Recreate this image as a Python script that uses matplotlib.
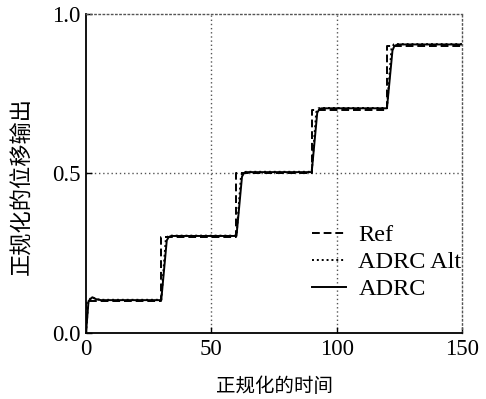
import matplotlib
matplotlib.use("Agg")
import matplotlib.pyplot as plt

# Reference step command
ref_t = [0, 0, 30, 30, 60, 60, 90, 90, 120, 120, 150]
ref_y = [0, 0.1, 0.1, 0.3, 0.3, 0.5, 0.5, 0.7, 0.7, 0.9, 0.9]

# ADRC response
adrc_t = [0, 1.0, 2.5, 4.0, 6.0, 30.0, 32.2, 33.0, 34.0, 60.0, 62.2, 63.0, 64.0,
          90.0, 92.2, 93.0, 94.0, 120.0, 122.2, 123.0, 124.5, 150]
adrc_y = [0, 0.100, 0.112, 0.106, 0.103, 0.103, 0.290, 0.301, 0.304, 0.304, 0.490, 0.501, 0.504,
          0.504, 0.690, 0.701, 0.704, 0.704, 0.885, 0.900, 0.904, 0.904]

# ADRC alternative response
alt_t = [0, 0.9, 2.3, 4.0, 6.0, 30.0, 31.8, 32.7, 34.0, 60.0, 61.8, 62.7, 64.0,
         90.0, 91.8, 92.7, 94.0, 120.0, 121.8, 122.7, 124.0, 150]
alt_y = [0, 0.100, 0.113, 0.106, 0.104, 0.104, 0.292, 0.304, 0.305, 0.305, 0.492, 0.504, 0.505,
         0.505, 0.692, 0.704, 0.705, 0.705, 0.890, 0.904, 0.905, 0.905]

x_ticks = [0, 50, 100, 150]
y_ticks = [0.0, 0.5, 1.0]
x_label = "正规化的时间"
y_label = "正规化的位移输出"

plt.rcParams["font.family"] = ["Liberation Serif", "Noto Sans CJK SC"]

fig = plt.figure(figsize=(4.86, 3.99), dpi=100)
ax = fig.add_axes([0.177, 0.1654, 0.774, 0.800])

ax.plot(ref_t, ref_y, color="black", lw=1.4, ls=(0, (4, 2)), label="Ref")
ax.plot(alt_t, alt_y, color="black", lw=1.4, ls=(0, (1, 1.5)), label="ADRC Alt")
ax.plot(adrc_t, adrc_y, color="black", lw=1.4, ls="-", label="ADRC")

ax.set_xlim(0, 150)
ax.set_ylim(0, 1.0)
ax.set_xticks(x_ticks)
ax.set_yticks(y_ticks)
ax.set_xticklabels([str(v) for v in x_ticks], fontsize=16.5)
ax.set_yticklabels([f"{v:.1f}" for v in y_ticks], fontsize=16.5)
ax.tick_params(direction="in", length=4, width=1, top=False, right=False, pad=4)

# dotted grid lines at the interior ticks
for xv in [50, 100]:
    ax.axvline(xv, color="#555555", lw=1, ls=(0, (1, 2)), zorder=0)
ax.axhline(0.5, color="#555555", lw=1, ls=(0, (1, 2)), zorder=0)

for side in ["left", "bottom"]:
    ax.spines[side].set_linewidth(1.3)
for side in ["top", "right"]:
    ax.spines[side].set_linestyle((0, (1, 2)))
    ax.spines[side].set_color("#555555")
    ax.spines[side].set_linewidth(1)

ax.set_xlabel(x_label, family="Noto Sans CJK SC", fontsize=14, labelpad=12)
ax.set_ylabel(y_label, family="Noto Sans CJK SC", fontsize=16)
ax.yaxis.set_label_coords(-0.141, 0.459)

ax.legend(loc="upper left", bbox_to_anchor=(0.601, 0.34), frameon=False,
          fontsize=17.5, handlelength=1.4, handletextpad=0.5, labelspacing=0.2,
          borderaxespad=0, borderpad=0)

fig.savefig("out.png", dpi=100)
